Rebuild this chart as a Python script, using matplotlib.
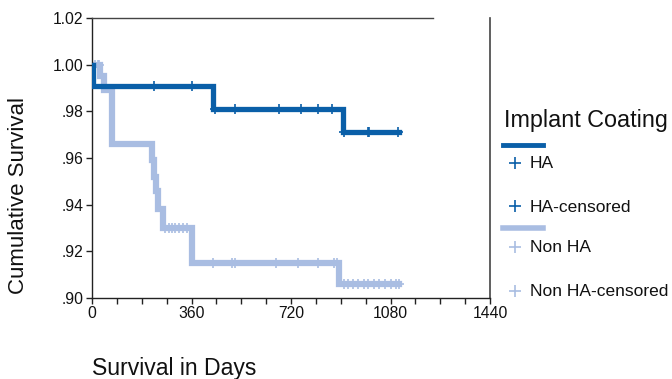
import numpy as np
import matplotlib
matplotlib.use("Agg")
import matplotlib.pyplot as plt
from matplotlib.lines import Line2D

plt.rcParams['font.family'] = ['Liberation Sans', 'DejaVu Sans']

# ---- data ----
ha_event_days = [0, 3, 439, 907]
ha_surv = [1.000, 0.991, 0.981, 0.971]
ha_end = 1110
ha_censor_days = [225, 363, 445, 519, 678, 755, 816, 870, 912, 1000, 1004, 1106]

non_event_days = [0, 30, 45, 72, 218, 224, 230, 240, 257, 362, 895]
non_surv = [1.000, 0.995, 0.989, 0.966, 0.959, 0.952, 0.946, 0.938, 0.930, 0.915, 0.906]
non_end = 1110
non_censor_days = [10, 20, 26, 265, 278, 290, 302, 315, 330, 345,
                   439, 508, 519, 667, 747, 816, 874, 886,
                   912, 928, 945, 962, 985, 1000, 1020, 1040, 1060, 1080, 1100, 1110]

x_ticks = [0, 360, 720, 1080, 1440]
y_ticks = [0.90, 0.92, 0.94, 0.96, 0.98, 1.00, 1.02]
y_tick_labels = ['.90', '.92', '.94', '.96', '.98', '1.00', '1.02']

ha_color = '#0a5fa8'
non_color = '#a9bde2'
txt = '#111111'

def surv_at(days, events, surv):
    idx = np.searchsorted(np.array(events), np.array(days), side='right') - 1
    return np.array(surv)[idx]

fig = plt.figure(figsize=(6.72, 3.79), dpi=100)
ax = fig.add_axes([92/672, 1 - 298/379, (490-92)/672, (298-18)/379])

# Non HA
nx = list(non_event_days) + [non_end]
ny = list(non_surv) + [non_surv[-1]]
ax.step(nx, ny, where='post', color=non_color, lw=4.5, solid_joinstyle='miter', zorder=2)
ax.plot(non_censor_days, surv_at(non_censor_days, non_event_days, non_surv), '+',
        color=non_color, ms=7, mew=1.2, zorder=2)

# HA
hx = list(ha_event_days) + [ha_end]
hy = list(ha_surv) + [ha_surv[-1]]
ax.step(hx, hy, where='post', color=ha_color, lw=3.8, solid_joinstyle='miter', zorder=3)
ax.plot(ha_censor_days, surv_at(ha_censor_days, ha_event_days, ha_surv), '+',
        color=ha_color, ms=7, mew=1.2, zorder=3)

ax.set_xlim(0, 1440)
ax.set_ylim(0.90, 1.02)
ax.set_xticks(x_ticks)
ax.set_xticks(np.arange(0, 1441, 90), minor=True)
ax.set_yticks(y_ticks)
ax.set_yticklabels(y_tick_labels)
ax.tick_params(axis='both', direction='out', length=4, width=1, labelsize=11.3,
               color='#222222', labelcolor=txt, pad=2)
ax.tick_params(axis='x', which='minor', direction='out', length=4, width=1, color='#222222')
for s in ['left', 'bottom']:
    ax.spines[s].set_linewidth(1.0)
    ax.spines[s].set_color('#222222')
ax.spines['top'].set_color('#444444')
ax.spines['top'].set_linewidth(1.0)
ax.spines['top'].set_bounds(0, 1235)
ax.spines['right'].set_color('#444444')
ax.spines['right'].set_linewidth(1.2)

fig.text(92/672, 1 - 368/379, 'Survival in Days', fontsize=16.6, ha='left', va='center', color=txt)
fig.text(19/672, 1 - 196/379, 'Cumulative Survival', fontsize=16.0, rotation=90, ha='center', va='center', color=txt)

# Legend (figure coords)
def fy(py):
    return 1 - py/379

fig.text(504/672, fy(120), 'Implant Coating', fontsize=16.8, ha='left', va='center', color=txt)
fig.add_artist(Line2D([503/672, 543/672], [fy(145), fy(145)], color=ha_color, lw=3.5))
fig.add_artist(Line2D([515/672], [fy(163)], marker='+', color=ha_color, ms=8, mew=1.2))
fig.text(530/672, fy(164), 'HA', fontsize=12.5, ha='left', va='center', color=txt)
fig.add_artist(Line2D([515/672], [fy(206)], marker='+', color=ha_color, ms=8, mew=1.2))
fig.text(530/672, fy(207), 'HA-censored', fontsize=12.5, ha='left', va='center', color=txt)
fig.add_artist(Line2D([503/672, 543/672], [fy(228), fy(228)], color=non_color, lw=4.0))
fig.add_artist(Line2D([515/672], [fy(247)], marker='+', color=non_color, ms=8, mew=1.2))
fig.text(530/672, fy(248), 'Non HA', fontsize=12.5, ha='left', va='center', color=txt)
fig.add_artist(Line2D([515/672], [fy(291)], marker='+', color=non_color, ms=8, mew=1.2))
fig.text(530/672, fy(292), 'Non HA-censored', fontsize=12.5, ha='left', va='center', color=txt)

fig.savefig('out.png', dpi=100)
